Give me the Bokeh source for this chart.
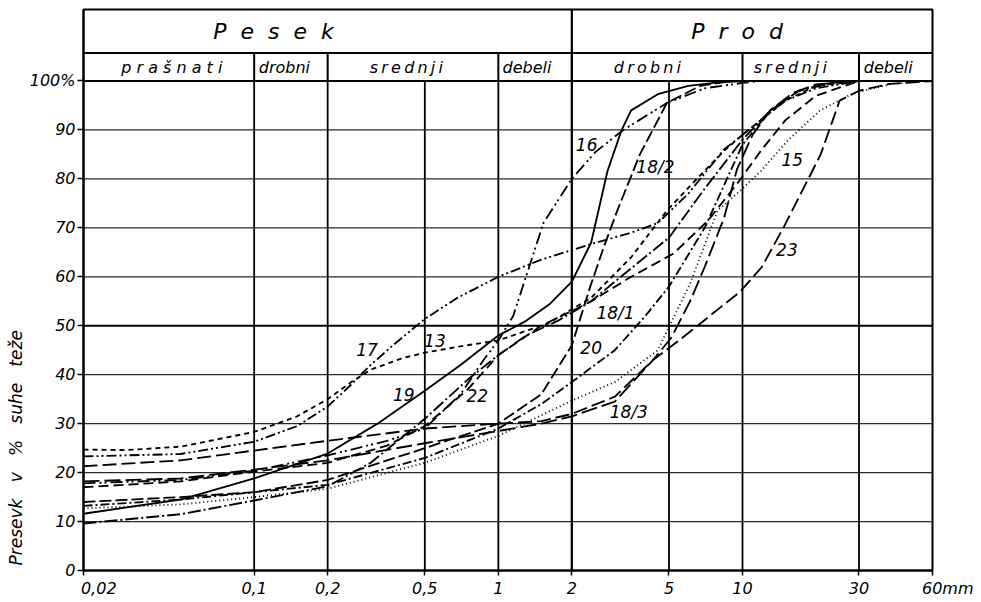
import numpy as np
from bokeh.plotting import figure
from bokeh.models import Range1d, FixedTicker, Title
from bokeh.core.properties import value
from bokeh.embed import file_html
from bokeh.resources import INLINE

FONT = "DejaVu Sans"
NB = "\u00a0"
TS = "\u2009"

# ---------------- data ----------------
x_ticks = [0.02, 0.1, 0.2, 0.5, 1, 2, 5, 10, 30, 60]
x_tick_labels = ["0,02", "0,1", "0,2", "0,5", "1", "2", "5", "10", "30", "60mm"]
y_ticks = [0, 10, 20, 30, 40, 50, 60, 70, 80, 90, 100]
y_tick_labels = ["0", "10", "20", "30", "40", "50", "60", "70", "80", "90", "100%"]
y_title_words = ["Presevk", "v", "%", "suhe", "teže"]

group_names = ["Pesek", "Prod"]
group_pos_x = [0.12, 9.5]
class_names = ["prašnati", "drobni", "srednji", "debeli", "drobni", "srednji", "debeli"]
class_spacing = [" ", "", TS, "", TS, TS, ""]
class_pos_x = [0.046, 0.133, 0.42, 1.31, 4.08, 15.7, 39.5]
class_bounds = [0.1, 0.2, 1, 2, 10, 30]
grid_x = [0.1, 0.2, 0.5, 1, 2, 5, 10, 30]
grid_y = [10, 20, 30, 40, 60, 70, 80, 90]

c13_x = [0.02, 0.03, 0.05, 0.1, 0.15, 0.2, 0.25, 0.3, 0.4, 0.5, 0.7, 1, 1.6, 2.4, 3.5, 4.9, 6.5, 8.4, 10, 15, 20, 30]
c13_y = [24.7, 24.6, 25.3, 28.3, 31.5, 35, 38.5, 41, 43.3, 44.5, 45.8, 47, 50.5, 55.7, 64, 73.5, 80, 85.7, 89, 96, 99, 100]

c17_x = [0.02, 0.05, 0.1, 0.15, 0.2, 0.25, 0.3, 0.37, 0.5, 0.68, 1, 1.5, 2.4, 3.5, 4.5, 6, 8.4, 10, 15, 20, 30]
c17_y = [23.3, 23.8, 26.3, 29.5, 33.5, 38, 42, 46, 51.4, 55.7, 60, 63.5, 66.7, 69, 71, 77, 86, 89, 96, 98.5, 100]

c19_x = [0.02, 0.05, 0.1, 0.2, 0.32, 0.5, 0.7, 1, 1.3, 1.63, 2, 2.4, 2.8, 3.2, 3.5, 4.5, 6, 7.6, 10]
c19_y = [11.6, 14.5, 18.8, 23.9, 30, 36.7, 42, 48, 51, 54.5, 59, 67, 81.6, 90, 94, 97.3, 99, 99.6, 100]

c15_x = [0.02, 0.05, 0.1, 0.2, 0.5, 1, 2, 3, 4.5, 6.1, 7.9, 10, 11.9, 15.3, 20.8, 28.5, 40, 55]
c15_y = [12.7, 13.5, 15, 16.7, 22, 27.5, 34.7, 38.5, 45, 58.6, 73.5, 78, 81.6, 87.8, 94, 97.5, 99.3, 100]

c23_x = [0.02, 0.05, 0.1, 0.2, 0.5, 1, 1.5, 2, 3, 4.3, 5.5, 6.7, 8, 9.8, 12, 14.7, 18.6, 20.9, 25, 30, 40, 60]
c23_y = [21.3, 22.5, 24.5, 26.5, 29, 30, 30.5, 32, 35.5, 43, 47, 50.4, 53.5, 57, 62, 70, 80, 85, 96, 98, 99.4, 100]

c16_x = [0.02, 0.05, 0.1, 0.2, 0.35, 0.5, 0.7, 0.87, 1, 1.15, 1.35, 1.53, 2, 2.5, 3.25, 4.9, 7, 10, 12]
c16_y = [17.8, 18.5, 20.4, 23.5, 26.5, 29, 36, 43, 47, 52, 62.6, 71, 80, 85.5, 90, 95.5, 98.5, 99.6, 100]

c18_1_x = [0.02, 0.05, 0.1, 0.2, 0.35, 0.5, 0.75, 1, 1.5, 2, 2.4, 3.5, 5.2, 7.2, 9.5, 12, 15, 20, 30]
c18_1_y = [17.0, 18.2, 20.2, 22, 25.5, 29.5, 37, 44, 50, 53, 55, 60, 64.7, 71.4, 79, 86, 92, 97, 100]

c18_2_x = [0.02, 0.05, 0.1, 0.2, 0.5, 1, 1.5, 2, 2.38, 2.7, 3.07, 3.8, 4.9, 6.7, 9]
c18_2_y = [14, 15, 16, 18.5, 25, 30, 36, 46, 58, 66, 73.5, 85, 95.5, 99, 100]

c18_3_x = [0.02, 0.05, 0.1, 0.2, 0.5, 1, 1.5, 2, 3, 4.3, 5.1, 6.1, 7, 8.4, 9.5, 11, 13, 16, 20, 30]
c18_3_y = [18.2, 18.8, 20.6, 22.5, 26, 28.5, 30, 31.5, 34.5, 43, 47.5, 55, 62, 72, 82, 89, 94, 97.5, 99.3, 100]

c20_x = [0.02, 0.05, 0.1, 0.2, 0.5, 1, 1.5, 2, 3, 4, 5, 7, 10, 13, 17, 25]
c20_y = [13.2, 14.5, 16, 17.5, 23, 29, 34, 38.5, 45, 52, 58, 70, 87, 94, 98, 100]

c22_x = [0.02, 0.05, 0.1, 0.2, 0.3, 0.5, 0.75, 1, 1.3, 1.75, 2.4, 3, 5, 7, 10, 13, 17, 25]
c22_y = [9.6, 11.5, 14.3, 17.2, 22, 31, 39, 44, 48, 51, 55, 59, 68, 78, 88, 94, 98, 100]

label_text = ["16", "18/2", "15", "23", "18/1", "20", "18/3", "17", "13", "19", "22"]
label_x = [2.3, 4.4, 16.0, 15.2, 3.02, 2.4, 3.42, 0.29, 0.55, 0.41, 0.82]
label_y = [87.1, 82.5, 84.0, 65.5, 52.7, 45.5, 32.3, 45.1, 47, 36.0, 35.7]

curves = [
    (c13_x, c13_y, "5 4"),
    (c17_x, c17_y, "10 3 2 3 2 3"),
    (c19_x, c19_y, "solid"),
    (c15_x, c15_y, "1 3"),
    (c23_x, c23_y, "14 5"),
    (c16_x, c16_y, "12 4 2 3 2 4"),
    (c18_1_x, c18_1_y, "10 5"),
    (c18_2_x, c18_2_y, "12 4"),
    (c18_3_x, c18_3_y, "16 5"),
    (c20_x, c20_y, "9 3 2 3"),
    (c22_x, c22_y, "13 3 2 3"),
]

Y_TOP = 114.6
Y_ROW = 105.7

# ---------------- figure ----------------
p = figure(width=978, height=600, x_axis_type="log",
           x_range=Range1d(0.02, 60), y_range=Range1d(0, Y_TOP),
           output_backend="svg", toolbar_location=None,
           min_border_left=83, min_border_right=46,
           min_border_top=9, min_border_bottom=30)
p.title.visible = False
p.xgrid.visible = False
p.ygrid.visible = False
p.outline_line_color = "black"
p.outline_line_width = 2
p.outline_line_alpha = 1
p.background_fill_color = "white"
p.border_fill_color = "white"

# axes
xlab = list(x_tick_labels)
xlab[0] = NB * 6 + xlab[0]
xlab[-1] = NB * 6 + xlab[-1]
p.xaxis.ticker = FixedTicker(ticks=x_ticks)
p.xaxis.major_label_overrides = {t: l for t, l in zip(x_ticks, xlab)}
p.yaxis.ticker = FixedTicker(ticks=y_ticks)
p.yaxis.major_label_overrides = {t: l for t, l in zip(y_ticks, y_tick_labels)}
for ax in (p.xaxis[0], p.yaxis[0]):
    ax.axis_line_width = 2
    ax.axis_line_color = "black"
    ax.major_tick_in = 0
    ax.major_tick_line_width = 1.5
    ax.major_tick_line_color = "black"
    ax.minor_tick_line_color = None
    ax.major_label_text_font = FONT
    ax.major_label_text_font_style = "italic"
    ax.major_label_text_font_size = "16px"
    ax.major_label_text_color = "black"
p.xaxis.major_tick_out = 5
p.xaxis.major_label_standoff = 3
p.yaxis.major_tick_out = 6
p.yaxis.major_label_standoff = 2

# y axis title as a side title, anchored at the bottom of the frame
ytitle = Title(text=(NB * 3).join(y_title_words), align="left", offset=5,
               text_font=FONT, text_font_style="italic", text_font_size="17px",
               text_color="black", standoff=2)
p.add_layout(ytitle, "left")

# grid drawn as segments (kept out of the header)
p.segment(x0=grid_x, y0=[0] * len(grid_x), x1=grid_x, y1=[100] * len(grid_x),
          line_color="black", line_width=1.8)
p.segment(x0=[0.02] * len(grid_y), y0=grid_y, x1=[60] * len(grid_y), y1=grid_y,
          line_color="#2a2a2a", line_width=1.2)
p.segment(x0=[0.02], y0=[50], x1=[60], y1=[50], line_color="black", line_width=2.2)
p.segment(x0=[2], y0=[0], x1=[2], y1=[Y_TOP], line_color="black", line_width=2.2)

# header table
p.segment(x0=[0.02, 0.02], y0=[100, Y_ROW], x1=[60, 60], y1=[100, Y_ROW],
          line_color="black", line_width=2)
p.segment(x0=class_bounds, y0=[100] * len(class_bounds), x1=class_bounds,
          y1=[Y_ROW] * len(class_bounds), line_color="black", line_width=2)
p.text(x=group_pos_x, y=[(Y_ROW + Y_TOP) / 2] * 2,
       text=[(" " + NB).join(list(g)) for g in group_names],
       text_font=value(FONT), text_font_style="italic", text_font_size="22px",
       text_align="center", text_baseline="middle", text_color="black")
p.text(x=class_pos_x, y=[(100 + Y_ROW) / 2] * len(class_pos_x),
       text=[sp.join(list(c)) for c, sp in zip(class_names, class_spacing)],
       text_font=value(FONT), text_font_style="italic", text_font_size="16px",
       text_align="center", text_baseline="middle", text_color="black")

# curves
for cx, cy, dash in curves:
    p.line(cx, cy, line_color="black", line_width=1.85, line_dash=dash)

p.text(x=label_x, y=label_y, text=label_text, text_font=value(FONT),
       text_font_style="italic", text_font_size="17px", text_align="center",
       text_baseline="middle", text_color="black")

open("out.html", "w").write(file_html(p, INLINE))
